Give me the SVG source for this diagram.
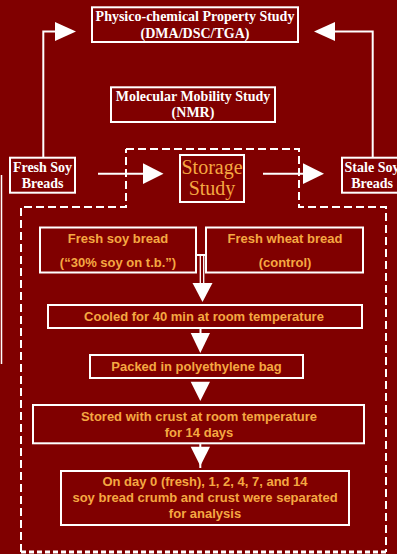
<svg xmlns="http://www.w3.org/2000/svg" width="397" height="554" viewBox="0 0 397 554">
<defs>
<style>
.bg{fill:#800000}
.box{fill:none;stroke:#ffffff;stroke-width:2}
.ln{fill:none;stroke:#ffffff;stroke-width:2}
.hd{fill:#ffffff}
.dash{fill:none;stroke:#ffffff;stroke-width:2;stroke-dasharray:8 4}
.st{font-family:"Liberation Serif","Times New Roman",serif;font-weight:bold;font-size:14px;fill:#ffffff;text-anchor:middle}
.ss{font-family:"Liberation Serif","Times New Roman",serif;font-size:20px;fill:#f5a842;text-anchor:middle}
.tx{font-family:"Liberation Sans",Arial,sans-serif;font-weight:bold;font-size:13px;fill:#f5a842;text-anchor:middle}
</style>
</defs>
<rect class="bg" x="0" y="0" width="397" height="554"/>
<line x1="1.5" y1="175" x2="1.5" y2="364" stroke="#ffffff" stroke-width="1.5"/>

<g id="connectors">
  <path class="dash" d="M126,149 H299 V207 H386 V552 M21,552 V207 H126 V149"/>
  <line x1="21" y1="552" x2="386" y2="552" stroke="#ffffff" stroke-width="3" stroke-dasharray="5 3"/>
  <!-- left loop to physico -->
  <polyline class="ln" points="43.3,158 43.3,31.5 56,31.5"/>
  <polygon class="hd" points="55,22 76,31.5 55,41"/>
  <!-- right loop to physico -->
  <polyline class="ln" points="372.7,158 372.7,31.5 334,31.5"/>
  <polygon class="hd" points="335,22 314,31.5 335,41"/>
  <!-- fresh -> storage -->
  <line class="ln" x1="98" y1="173.7" x2="144" y2="173.7"/>
  <polygon class="hd" points="143,163.3 163.5,173.7 143,184"/>
  <!-- storage -> stale -->
  <line class="ln" x1="263" y1="173.7" x2="304" y2="173.7"/>
  <polygon class="hd" points="303,163.3 324,173.7 303,184"/>
  <!-- breads -> cooled -->
  <line class="ln" x1="196" y1="255" x2="206" y2="255"/>
  <line stroke="#ffffff" stroke-width="1.3" x1="200.3" y1="255" x2="200.3" y2="284"/>
  <line stroke="#ffffff" stroke-width="1.3" x1="203.7" y1="255" x2="203.7" y2="284"/>
  <polygon class="hd" points="192.5,283 212.5,283 202.5,302"/>
  <!-- cooled -> packed -->
  <line class="ln" x1="200.5" y1="328" x2="200.5" y2="334"/>
  <polygon class="hd" points="190.7,333 210,333 200.3,353"/>
  <!-- packed -> stored -->
  <polygon class="hd" points="190.7,381.7 210,381.7 200.3,401"/>
  <!-- stored -> final -->
  <line class="ln" x1="200.3" y1="443" x2="200.3" y2="468"/>
  <polygon class="hd" points="190.7,446.7 210,446.7 200.3,466"/>
</g>

<g id="physico">
  <rect class="box" x="92" y="7.3" width="206" height="34.7"/>
  <text class="st" x="195" y="21">Physico-chemical Property Study</text>
  <text class="st" x="195" y="37.5">(DMA/DSC/TGA)</text>
</g>
<g id="nmr">
  <rect class="box" x="111" y="87.3" width="164" height="34.7"/>
  <text class="st" x="193" y="101">Molecular Mobility Study</text>
  <text class="st" x="193" y="116.7">(NMR)</text>
</g>
<g id="fresh">
  <rect class="box" x="10" y="157.7" width="65" height="35"/>
  <text class="st" x="42.5" y="171.7">Fresh Soy</text>
  <text class="st" x="42.5" y="187.7">Breads</text>
</g>
<g id="stale">
  <rect class="box" x="342" y="157.7" width="62" height="35"/>
  <text class="st" x="372" y="171.7">Stale Soy</text>
  <text class="st" x="372" y="187.7">Breads</text>
</g>
<g id="storage">
  <rect class="box" x="180" y="155" width="64" height="47"/>
  <text class="ss" x="212" y="174.3">Storage</text>
  <text class="ss" x="212" y="195">Study</text>
</g>
<g id="soybread">
  <rect class="box" x="40" y="227.5" width="156" height="45"/>
  <text class="tx" x="118" y="243">Fresh soy bread</text>
  <text class="tx" x="118" y="267">(“30% soy on t.b.”)</text>
</g>
<g id="wheatbread">
  <rect class="box" x="206" y="227.5" width="157" height="45"/>
  <text class="tx" x="285" y="243">Fresh wheat bread</text>
  <text class="tx" x="285" y="267">(control)</text>
</g>
<g id="cooled">
  <rect class="box" x="48" y="305" width="314" height="23"/>
  <text class="tx" x="204" y="321.3">Cooled for 40 min at room temperature</text>
</g>
<g id="packed">
  <rect class="box" x="90" y="355" width="213" height="23"/>
  <text class="tx" x="196.5" y="371">Packed in polyethylene bag</text>
</g>
<g id="stored">
  <rect class="box" x="33" y="405" width="331" height="38.3"/>
  <text class="tx" x="199" y="420.5">Stored with crust at room temperature</text>
  <text class="tx" x="199" y="436.7">for 14 days</text>
</g>
<g id="analysis">
  <rect class="box" x="61" y="471" width="288" height="54"/>
  <text class="tx" x="205" y="486">On day 0 (fresh), 1, 2, 4, 7, and 14</text>
  <text class="tx" x="205" y="502.3">soy bread crumb and crust were separated</text>
  <text class="tx" x="205" y="518.3">for analysis</text>
</g>
</svg>
